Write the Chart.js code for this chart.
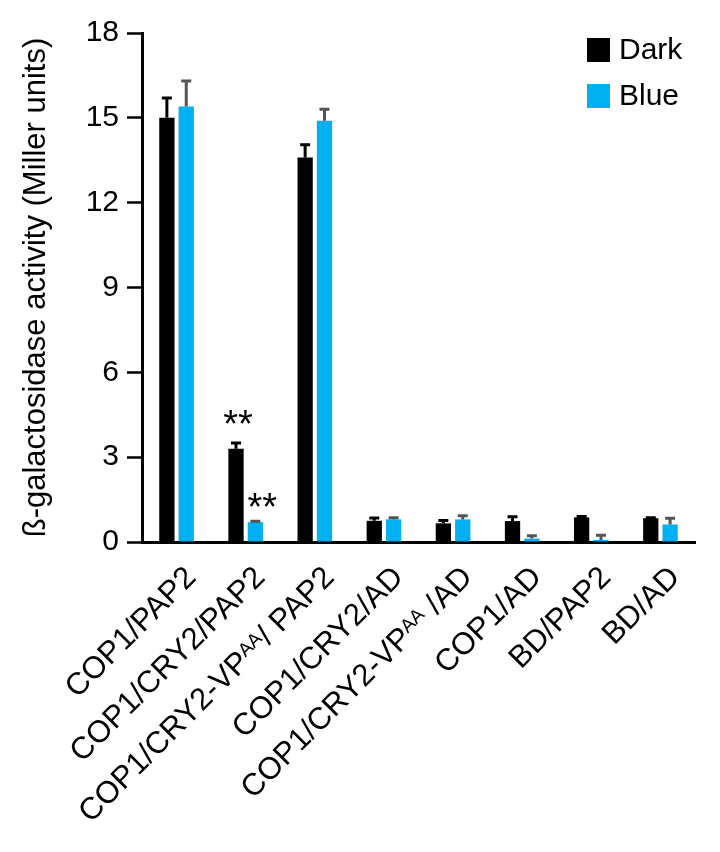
<!DOCTYPE html>
<html>
<head>
<meta charset="utf-8">
<script src="https://cdn.jsdelivr.net/npm/chart.js@4.4.1/dist/chart.umd.min.js"></script>
<style>
  html, body { margin: 0; padding: 0; background: #fff; }
  #wrap { width: 720px; height: 852px; }
</style>
</head>
<body>
<div id="wrap"><canvas id="betaGalChart" width="720" height="852"></canvas></div>
<script>
// categories; text in {} is drawn as superscript
var categories = ['COP1/PAP2', 'COP1/CRY2/PAP2', 'COP1/CRY2-VP{AA}/ PAP2', 'COP1/CRY2/AD',
                  'COP1/CRY2-VP{AA} /AD', 'COP1/AD', 'BD/PAP2', 'BD/AD'];
var darkValues = [15.0, 3.3, 13.6, 0.75, 0.66, 0.74, 0.87, 0.84];
var darkErrors = [0.7, 0.2, 0.45, 0.1, 0.1, 0.15, 0.03, 0.02];
var blueValues = [15.4, 0.7, 14.9, 0.8, 0.8, 0.12, 0.07, 0.62];
var blueErrors = [0.9, 0.03, 0.4, 0.06, 0.13, 0.1, 0.17, 0.22];
var darkMarks = ['', '**', '', '', '', '', '', ''];
var blueMarks = ['', '**', '', '', '', '', '', ''];
var yTicks = [0, 3, 6, 9, 12, 15, 18];

var FONT = "'Liberation Sans', Arial, sans-serif";

// error bars + significance stars
var errorBarPlugin = {
  id: 'errorBars',
  afterDatasetsDraw: function(chart) {
    var ctx = chart.ctx;
    var y = chart.scales.y;
    var sets = [
      { errs: darkErrors, vals: darkValues, marks: darkMarks, color: '#000', dx: 2, lift: 6 },
      { errs: blueErrors, vals: blueValues, marks: blueMarks, color: '#555', dx: 7, lift: 1 }
    ];
    sets.forEach(function(s, di) {
      var meta = chart.getDatasetMeta(di);
      meta.data.forEach(function(bar, i) {
        var top = y.getPixelForValue(s.vals[i] + s.errs[i]);
        var base = y.getPixelForValue(s.vals[i]);
        ctx.save();
        ctx.strokeStyle = s.color;
        ctx.lineWidth = 3;
        ctx.beginPath();
        ctx.moveTo(bar.x, base);
        ctx.lineTo(bar.x, top);
        ctx.moveTo(bar.x - 5, top);
        ctx.lineTo(bar.x + 5, top);
        ctx.stroke();
        if (s.marks[i]) {
          ctx.fillStyle = '#000';
          ctx.font = '38px ' + FONT;
          ctx.textAlign = 'center';
          ctx.textBaseline = 'alphabetic';
          ctx.fillText(s.marks[i], bar.x + s.dx, top - s.lift);
        }
        ctx.restore();
      });
    });
  }
};

// rotated category labels with superscript parts
function splitLabel(text) {
  var parts = [];
  text.split(/(\{[^}]*\})/).forEach(function(p) {
    if (!p) return;
    if (p.charAt(0) === '{') parts.push({ t: p.slice(1, -1), sup: true });
    else parts.push({ t: p, sup: false });
  });
  return parts;
}

var xLabelPlugin = {
  id: 'xLabels',
  afterDraw: function(chart) {
    var ctx = chart.ctx;
    var xs = chart.scales.x;
    var base = chart.chartArea.bottom;
    categories.forEach(function(label, i) {
      var parts = splitLabel(label);
      var mainFont = '31px ' + FONT, supFont = '19px ' + FONT;
      var total = 0;
      parts.forEach(function(p) {
        ctx.font = p.sup ? supFont : mainFont;
        p.w = ctx.measureText(p.t).width;
        total += p.w;
      });
      ctx.save();
      ctx.translate(xs.getPixelForValue(i) + 13, base + 29);
      ctx.rotate(-Math.PI / 4);
      ctx.fillStyle = '#000';
      ctx.textAlign = 'left';
      ctx.textBaseline = 'alphabetic';
      var cx = -total;
      parts.forEach(function(p) {
        ctx.font = p.sup ? supFont : mainFont;
        ctx.fillText(p.t, cx, p.sup ? 11 - 8 : 11);
        cx += p.w;
      });
      ctx.restore();
    });
  }
};

// legend, top right inside the plot
var legendPlugin = {
  id: 'boxLegend',
  afterDraw: function(chart) {
    var ctx = chart.ctx;
    var x0 = chart.chartArea.right - 108;
    var y0 = chart.chartArea.top + 5;
    chart.data.datasets.forEach(function(ds, i) {
      var yy = y0 + i * 46;
      ctx.save();
      ctx.fillStyle = ds.backgroundColor;
      ctx.fillRect(x0, yy, 23, 24);
      ctx.fillStyle = '#000';
      ctx.font = '30px ' + FONT;
      ctx.textBaseline = 'middle';
      ctx.fillText(ds.label, x0 + 32, yy + 13);
      ctx.restore();
    });
  }
};

var ctx = document.getElementById('betaGalChart').getContext('2d');
var betaGalChart = new Chart(ctx, {
  type: 'bar',
  data: {
    labels: categories,
    datasets: [{
      label: 'Dark',
      data: darkValues,
      backgroundColor: '#000000',
      categoryPercentage: 0.56,
      barPercentage: 0.79
    }, {
      label: 'Blue',
      data: blueValues,
      backgroundColor: '#00b0f0',
      categoryPercentage: 0.56,
      barPercentage: 0.79
    }]
  },
  options: {
    responsive: false,
    animation: false,
    layout: { padding: { left: 0, right: 25, top: 33, bottom: 0 } },
    scales: {
      x: {
        grid: { display: false, drawTicks: false },
        border: { color: '#000', width: 3 },
        ticks: { display: false },
        afterFit: function(scale) { scale.height = 310; }
      },
      y: {
        min: 0,
        max: 18,
        afterBuildTicks: function(scale) {
          scale.ticks = yTicks.map(function(v) { return { value: v }; });
        },
        grid: { drawOnChartArea: false, drawTicks: true, tickLength: 15, tickWidth: 2.5, tickColor: '#000' },
        border: { color: '#000', width: 3 },
        ticks: { color: '#000', padding: 8, font: { family: FONT, size: 30 } },
        title: {
          display: true,
          text: 'ß-galactosidase activity (Miller units)',
          color: '#000',
          font: { family: FONT, size: 31 },
          padding: { top: 18, bottom: 0 }
        },
        afterFit: function(scale) { scale.width = 142; }
      }
    },
    plugins: {
      legend: { display: false },
      tooltip: { enabled: false }
    }
  },
  plugins: [errorBarPlugin, xLabelPlugin, legendPlugin]
});
</script>
</body>
</html>
